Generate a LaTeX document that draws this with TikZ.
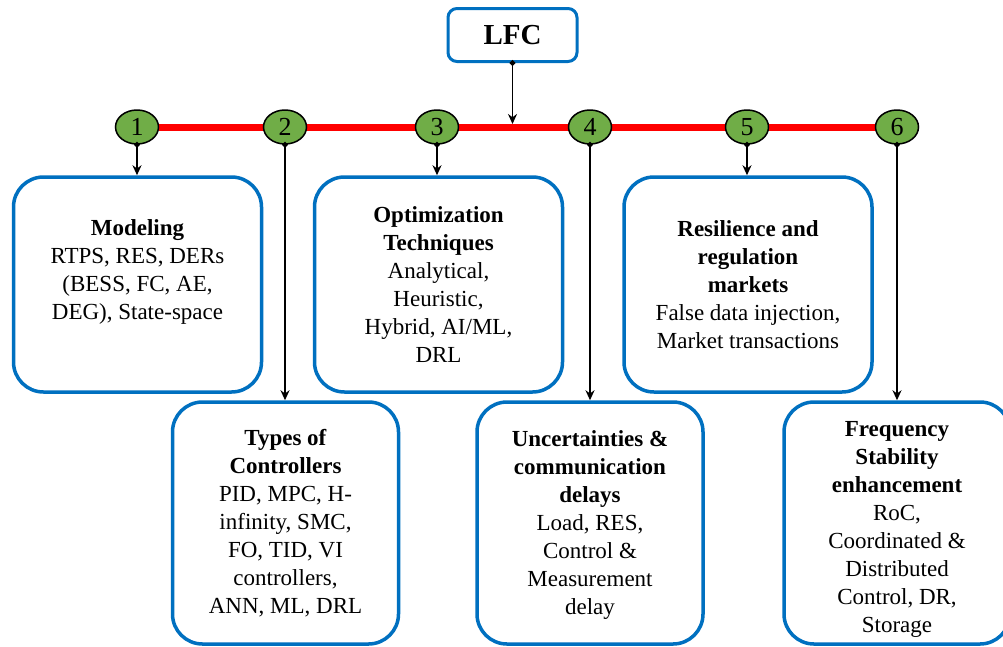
\documentclass[tikz,border=0pt]{standalone}
\usepackage{fontspec}
\setmainfont{Liberation Serif}
\newfontfamily\timesfam{Liberation Serif}
\usetikzlibrary{arrows.meta,shapes.geometric,backgrounds}
\definecolor{boxblue}{RGB}{0,112,192}
\definecolor{numgreen}{RGB}{112,173,71}
\begin{document}
\begin{tikzpicture}[x=1pt,y=-1pt,
  topic/.style={draw=boxblue, line width=3.5pt, rounded corners=30pt, fill=white, inner sep=0pt},
  topbox/.style={topic, minimum width=248pt, minimum height=215pt},
  lowbox/.style={topic, minimum width=226pt, minimum height=242pt},
  txt/.style={align=center, font=\timesfam\fontsize{23}{28}\selectfont, inner sep=0pt},
  num/.style={ellipse, draw=black, line width=1.5pt, fill=numgreen, minimum width=43pt,
              minimum height=34pt, inner sep=0pt, font=\timesfam\fontsize{26}{26}\selectfont},
  link/.style={line width=1.8pt, {Circle[length=5.5pt]}-{Stealth[length=10pt,width=9pt]}, shorten <=-2.75pt},
]
\useasboundingbox (0,0) rectangle (1003,646);

% root node
\node[draw=boxblue, line width=3pt, rounded corners=9pt, fill=white, minimum width=129pt,
      minimum height=53pt, font=\timesfam\bfseries\fontsize{29}{29}\selectfont] (lfc) at (512.5,35) {LFC};

% numbered markers on the timeline
\node[num] (n1) at (137,127) {1};
\node[num] (n2) at (285,127) {2};
\node[num] (n3) at (437,127) {3};
\node[num] (n4) at (590,127) {4};
\node[num] (n5) at (747,127) {5};
\node[num] (n6) at (897,127) {6};

\begin{scope}[on background layer]
  \draw[red, line width=7pt] (n1) -- (n6);
\end{scope}

% topic boxes
\node[topbox] (b1) at (137.5,284.5) {};
\node[lowbox] (b2) at (285.5,523) {};
\node[topbox] (b3) at (438.5,284.5) {};
\node[lowbox] (b4) at (590,523) {};
\node[topbox] (b5) at (748,284.5) {};
\node[lowbox] (b6) at (897,523) {};

% box contents
\node[txt] (t1) at (137.5,272) {\textbf{Modeling}\\RTPS, RES, DERs\\(BESS, FC, AE,\\DEG), State-space};
\node[txt] (t2) at (b2.center) {\textbf{Types of}\\\textbf{Controllers}\\PID, MPC, H-\\infinity, SMC,\\FO, TID, VI\\controllers,\\ANN, ML, DRL};
\node[txt] (t3) at (b3.center) {\textbf{Optimization}\\\textbf{Techniques}\\Analytical,\\Heuristic,\\Hybrid, AI/ML,\\DRL};
\node[txt] (t4) at ([yshift=-2pt]b4.center) {\textbf{Uncertainties \&}\\\textbf{communication}\\\textbf{delays}\\Load, RES,\\Control \&\\Measurement\\delay};
\node[txt] (t5) at (b5.center) {\textbf{Resilience and}\\\textbf{regulation}\\\textbf{markets}\\False data injection,\\Market transactions};
\node[txt] (t6) at ([yshift=-6pt]b6.center) {\textbf{Frequency}\\\textbf{Stability}\\\textbf{enhancement}\\RoC,\\Coordinated \&\\Distributed\\Control, DR,\\Storage};

% connectors
\coordinate (hit) at (lfc.south |- 0,124);
\draw[link] (lfc.south) -- (hit);
\foreach \i in {1,...,6} {
  \draw[link] (n\i.south) -- (n\i.south |- b\i.north);
}
\end{tikzpicture}
\end{document}
